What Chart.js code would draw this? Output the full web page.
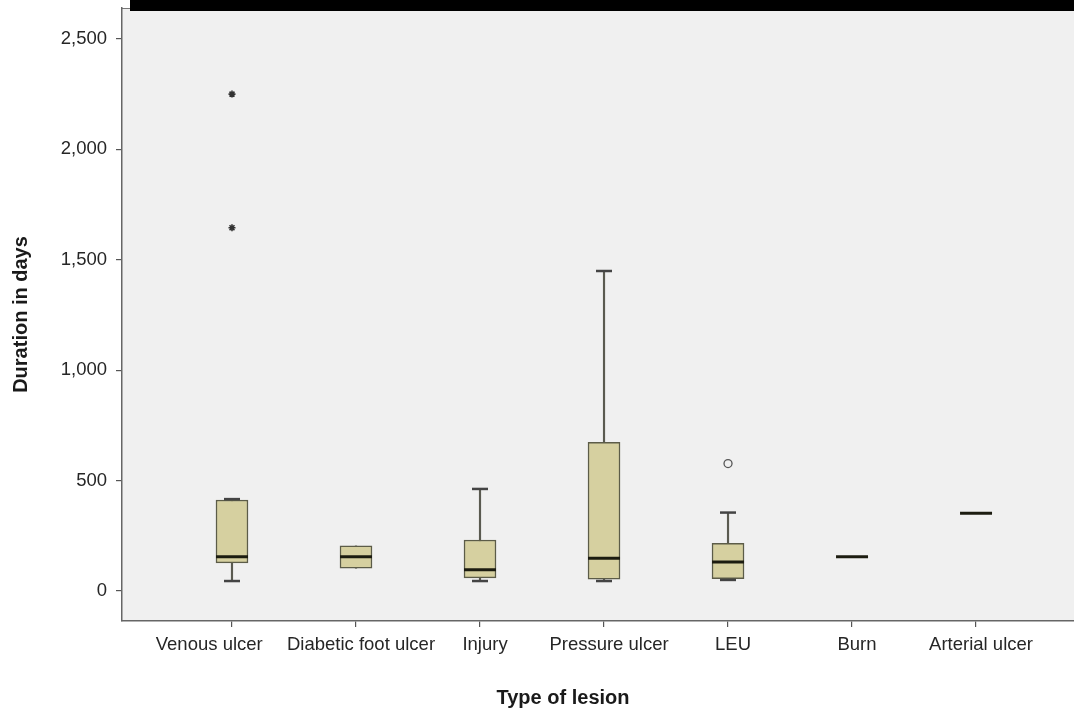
<!DOCTYPE html>
<html>
<head>
<meta charset="utf-8">
<script src="https://cdn.jsdelivr.net/npm/chart.js@4/dist/chart.umd.min.js"></script>
<style>
  html, body { margin: 0; padding: 0; background: #fff; overflow: hidden; }
  #wrap { width: 1074px; height: 711px; }
</style>
</head>
<body>
<div id="wrap"><canvas id="boxChart"></canvas></div>
<script>
// categories and box-plot summary values (days)
var lesionTypes = ["Venous ulcer", "Diabetic foot ulcer", "Injury", "Pressure ulcer", "LEU", "Burn", "Arterial ulcer"];
var minValues = [45, 103, 45, 45, 50, 155, 352];
var q1Values = [127, 103, 59, 53, 56, 155, 352];
var medianValues = [155, 155, 96, 148, 131, 155, 352];
var q3Values = [412, 204, 231, 673, 216, 155, 352];
var maxValues = [416, 204, 462, 1449, 355, 155, 352];
// outliers: [category index, value]
var extremeOutliers = [[0, 2250], [0, 1645]];
var mildOutliers = [[4, 577]];
var yTickValues = [0, 500, 1000, 1500, 2000, 2500];

(function () {
	"use strict";
	var i, boxData = [], whiskerData = [], capData = [], medianData = [];

	for (i = 0; i < lesionTypes.length; i++) {
		if (q3Values[i] > q1Values[i]) {
			boxData.push({ x: i, y: [q1Values[i], q3Values[i]] });
		}
		if (maxValues[i] > minValues[i]) {
			whiskerData.push({ x: i, y: [minValues[i], maxValues[i]] });
		}
		if (minValues[i] < q1Values[i]) {
			capData.push({ x: i, y: minValues[i] });
		}
		if (maxValues[i] > q3Values[i]) {
			capData.push({ x: i, y: maxValues[i] });
		}
		medianData.push({ x: i, y: medianValues[i] });
	}

	// plot background, frame top and the black strip over the top
	var framePlugin = {
		id: "frame",
		beforeDraw: function (chart) {
			var a = chart.chartArea, ctx = chart.ctx;
			ctx.save();
			ctx.fillStyle = "#f0f0f0";
			ctx.fillRect(a.left, a.top, a.right - a.left, a.bottom - a.top);
			ctx.strokeStyle = "#777";
			ctx.lineWidth = 1;
			ctx.beginPath();
			ctx.moveTo(a.left, a.top + 0.5);
			ctx.lineTo(a.right, a.top + 0.5);
			ctx.stroke();
			ctx.restore();
		},
		afterDraw: function (chart) {
			var a = chart.chartArea, ctx = chart.ctx;
			ctx.save();
			ctx.fillStyle = "#000";
			ctx.fillRect(a.left + 8, 0, a.right - a.left - 8, a.top + 3);
			ctx.restore();
		}
	};

	// drop the label overhang padding so the frame sits where SPSS put it
	function noOverhang(scale) {
		scale.paddingTop = 0;
		scale.paddingBottom = 0;
		scale.paddingLeft = 0;
		scale.paddingRight = 0;
	}

	var tickFont = { family: "'Liberation Sans', Arial, sans-serif", size: 18.5 };
	var titleFont = { family: "'Liberation Sans', Arial, sans-serif", size: 20, weight: "bold" };

	new Chart(document.getElementById("boxChart"), {
		type: "bar",
		data: {
			datasets: [{
				label: "Whiskers",
				data: whiskerData,
				grouped: false,
				barThickness: 1.5,
				backgroundColor: "#5a5a50",
				borderWidth: 0,
				order: 4
			}, {
				label: "Box",
				data: boxData,
				grouped: false,
				barThickness: 32,
				backgroundColor: "#d6d0a0",
				borderColor: "#5c5c48",
				borderWidth: 1.5,
				borderSkipped: false,
				order: 3
			}, {
				type: "scatter",
				label: "Caps",
				data: capData,
				pointStyle: "line",
				pointRadius: 8,
				borderColor: "#444",
				borderWidth: 2.5,
				order: 2
			}, {
				type: "scatter",
				label: "Median",
				data: medianData,
				pointStyle: "line",
				pointRadius: 16,
				borderColor: "#1c1c10",
				borderWidth: 3,
				order: 1
			}, {
				type: "scatter",
				label: "Extreme",
				data: extremeOutliers.map(function (o) { return { x: o[0], y: o[1] }; }),
				pointStyle: "star",
				pointRadius: 3.5,
				borderColor: "#333",
				borderWidth: 1.6,
				order: 0
			}, {
				type: "scatter",
				label: "Outlier",
				data: mildOutliers.map(function (o) { return { x: o[0], y: o[1] }; }),
				pointStyle: "circle",
				pointRadius: 4,
				backgroundColor: "#f0f0f0",
				borderColor: "#555",
				borderWidth: 1.3,
				order: 0
			}]
		},
		options: {
			responsive: true,
			maintainAspectRatio: false,
			animation: false,
			layout: { autoPadding: false, padding: { top: 8, right: 0, left: 0, bottom: 0 } },
			plugins: {
				legend: { display: false },
				tooltip: { enabled: false }
			},
			scales: {
				x: {
					type: "linear",
					min: -0.887,
					max: 6.79,
					offset: false,
					afterBuildTicks: function (scale) {
						scale.ticks = lesionTypes.map(function (c, k) { return { value: k }; });
					},
					afterFit: function (scale) {
						scale.height = 90;
						noOverhang(scale);
					},
					grid: {
						offset: false,
						drawOnChartArea: false,
						drawTicks: true,
						tickLength: 6,
						color: "#555",
						lineWidth: 1.2
					},
					border: { display: true, color: "#666", width: 1.5 },
					ticks: {
						font: tickFont,
						color: "#262626",
						padding: 7,
						maxRotation: 0,
						autoSkip: false,
						labelOffset: 5,
						callback: function (value) {
							var name = lesionTypes[value];
							// SPSS nudged the first label left to keep it clear of its neighbour
							return value === 0 ? name + "\u2003\u2003\u2003" : name;
						}
					},
					title: {
						display: true,
						// trailing spaces pull the centred title left, as in the original
						text: "Type of lesion\u2003\u2003\u2003\u2002",
						font: titleFont,
						color: "#1a1a1a",
						padding: { top: 0, bottom: 1 }
					}
				},
				y: {
					min: -136,
					max: 2640,
					afterBuildTicks: function (scale) {
						scale.ticks = yTickValues.map(function (v) { return { value: v }; });
					},
					afterFit: function (scale) {
						scale.width = 122;
						noOverhang(scale);
					},
					grid: {
						drawOnChartArea: false,
						drawTicks: true,
						tickLength: 6,
						color: "#555",
						lineWidth: 1.2
					},
					border: { display: true, color: "#666", width: 1.5 },
					ticks: {
						font: tickFont,
						color: "#262626",
						padding: 9,
						callback: function (value) {
							return value.toLocaleString("en-US");
						}
					},
					title: {
						display: true,
						text: "Duration in days",
						font: titleFont,
						color: "#1a1a1a",
						padding: { top: 9, bottom: 0 }
					}
				}
			}
		},
		plugins: [framePlugin]
	});
}());
</script>
</body>
</html>
